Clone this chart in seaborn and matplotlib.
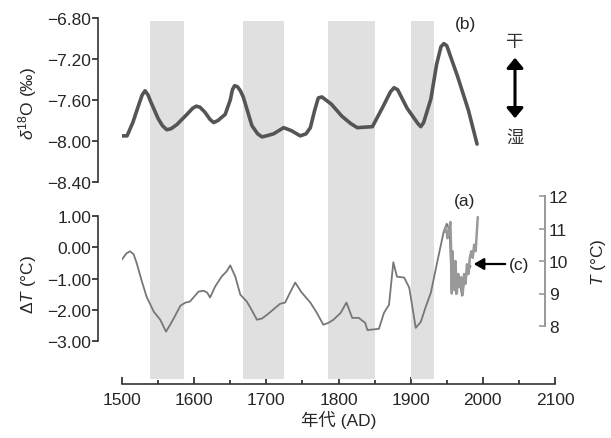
import matplotlib
matplotlib.use("Agg")
import matplotlib.pyplot as plt
import seaborn as sns
import pandas as pd

sns.set_style("ticks")
plt.rcParams['font.family'] = ['Liberation Sans', 'Noto Sans CJK SC', 'DejaVu Sans']
plt.rcParams['mathtext.fontset'] = 'custom'
plt.rcParams['mathtext.rm'] = 'Liberation Sans'
plt.rcParams['mathtext.it'] = 'Liberation Sans:italic'

# shaded cold/dry periods
band_start = [1539, 1668, 1786, 1900]
band_end = [1586, 1725, 1851, 1932]

# (b) stalagmite d18O
d18o_year = [1500, 1507, 1515, 1524, 1528, 1532, 1536, 1540, 1550, 1556, 1562, 1568, 1576,
             1590, 1598, 1603, 1608, 1615, 1622, 1627, 1633, 1643, 1650, 1653, 1656, 1660,
             1664, 1668, 1680, 1688, 1694, 1700, 1710, 1724, 1735, 1747, 1755, 1761, 1767,
             1772, 1777, 1790, 1805, 1817, 1826, 1847, 1862, 1872, 1877, 1882, 1895, 1910,
             1914, 1918, 1928, 1936, 1942, 1946, 1950, 1955, 1965, 1980, 1992]
d18o_val = [-7.95, -7.95, -7.82, -7.63, -7.55, -7.51, -7.55, -7.62, -7.78, -7.85, -7.89, -7.88, -7.84,
            -7.74, -7.68, -7.66, -7.67, -7.72, -7.79, -7.82, -7.80, -7.74, -7.60, -7.50, -7.46, -7.47,
            -7.51, -7.57, -7.85, -7.93, -7.96, -7.95, -7.93, -7.87, -7.90, -7.95, -7.93, -7.87, -7.70,
            -7.58, -7.57, -7.64, -7.76, -7.83, -7.87, -7.86, -7.66, -7.52, -7.48, -7.50, -7.68, -7.83,
            -7.86, -7.82, -7.59, -7.25, -7.08, -7.05, -7.07, -7.17, -7.37, -7.70, -8.03]

# (a) temperature anomaly
dt_year = [1500, 1506, 1511, 1516, 1520, 1527, 1534, 1544, 1553, 1561, 1569, 1581, 1588, 1594,
           1600, 1606, 1613, 1618, 1622, 1629, 1638, 1645, 1650, 1657, 1664, 1673, 1680, 1687,
           1694, 1701, 1719, 1726, 1734, 1740, 1749, 1761, 1770, 1779, 1786, 1793, 1803, 1811,
           1819, 1828, 1837, 1840, 1856, 1863, 1870, 1876, 1881, 1891, 1898, 1903, 1907, 1914,
           1921, 1928, 1937, 1946, 1950, 1954, 1957, 1960, 1963, 1967, 1971, 1975, 1979, 1983]
dt_val = [-0.39, -0.20, -0.13, -0.22, -0.48, -1.05, -1.58, -2.06, -2.32, -2.70, -2.39, -1.87, -1.77,
          -1.74, -1.58, -1.42, -1.39, -1.45, -1.61, -1.26, -0.94, -0.77, -0.58, -0.94, -1.52, -1.74,
          -2.02, -2.32, -2.28, -2.16, -1.81, -1.77, -1.40, -1.13, -1.45, -1.77, -2.10, -2.48, -2.42,
          -2.32, -2.10, -1.77, -2.26, -2.26, -2.42, -2.65, -2.61, -2.10, -1.84, -0.48, -0.94, -0.97,
          -1.29, -2.00, -2.58, -2.39, -1.90, -1.45, -0.45, 0.52, 0.75, 0.55, -1.40, -0.50, -1.50,
          -0.90, -1.55, -1.00, -0.80, -0.60]

# (c) instrumental temperature
t_year = [1947, 1949, 1951, 1953, 1955, 1956, 1957, 1958, 1959, 1961, 1962, 1964, 1966,
          1968, 1970, 1972, 1974, 1976, 1978, 1980, 1982, 1984, 1986, 1988, 1990, 1993]
t_val = [10.9, 11.05, 10.7, 10.9, 11.2, 10.4, 9.0, 10.3, 9.6, 9.1, 10.0, 9.0, 9.6,
         9.2, 9.5, 8.95, 9.6, 9.3, 9.9, 9.6, 10.1, 10.3, 10.1, 10.5, 10.3, 11.35]

W, H = 611, 439
fig = plt.figure(figsize=(W / 100, H / 100), dpi=100)


def pos(x0, y0, x1, y1):
    return [x0 / W, 1 - y1 / H, (x1 - x0) / W, (y1 - y0) / H]


FS = 12.5
xlim = (1500, 2100)

# background axes: bands + x axis
bg = fig.add_axes(pos(122, 22, 555, 385))
for s, e in zip(band_start, band_end):
    bg.axvspan(s, e, ymin=0.014, ymax=1, color="#e0e0e0", lw=0)
bg.set_xlim(*xlim)
bg.set_ylim(0, 1)
bg.set_yticks([])
for sp in ["top", "left", "right"]:
    bg.spines[sp].set_visible(False)
bg.spines["bottom"].set_linewidth(1.2)
bg.spines["bottom"].set_color("#333333")
bg.set_xticks(range(1500, 2101, 100))
bg.set_xticks(range(1550, 2100, 100), minor=True)
bg.tick_params(axis="x", which="major", direction="in", length=5, width=1.2, labelsize=FS, pad=6)
bg.tick_params(axis="x", which="minor", direction="in", length=3, width=1.2)
bg.set_xlabel("年代 (AD)", fontsize=FS, labelpad=2)
bg.patch.set_alpha(0)


def overlay(rect):
    ax = fig.add_axes(rect)
    ax.patch.set_alpha(0)
    ax.set_xlim(*xlim)
    ax.set_xticks([])
    for sp in ["top", "bottom", "right"]:
        ax.spines[sp].set_visible(False)
    return ax


# top panel (b)
ax_b = overlay(pos(122, 19, 555, 183))
df_b = pd.DataFrame({"year": d18o_year, "val": d18o_val})
sns.lineplot(data=df_b, x="year", y="val", ax=ax_b, color="#555555", lw=2.6,
             solid_joinstyle="round", solid_capstyle="round")
ax_b.set_ylim(-8.4, -6.8)
ax_b.set_yticks([-8.4, -8.0, -7.6, -7.2, -6.8])
ax_b.set_yticklabels(["\u22128.40", "\u22128.00", "\u22127.60", "\u22127.20", "\u22126.80"])
ax_b.spines["left"].set_position(("outward", 17))
ax_b.spines["left"].set_linewidth(1.2)
ax_b.spines["left"].set_color("#333333")
ax_b.tick_params(axis="y", direction="out", length=4, width=1.2, labelsize=FS, pad=1)
ax_b.set_xlabel("")
ax_b.set_ylabel("")

# bottom panel (a)
ax_a = overlay(pos(122, 217, 555, 342))
df_a = pd.DataFrame({"year": dt_year, "val": dt_val})
sns.lineplot(data=df_a, x="year", y="val", ax=ax_a, color="#777777", lw=1.3,
             solid_joinstyle="round")
ax_a.set_ylim(-3, 1)
ax_a.set_yticks([-3, -2, -1, 0, 1])
ax_a.set_yticklabels(["\u22123.00", "\u22122.00", "\u22121.00", "0.00", "1.00"])
ax_a.spines["left"].set_position(("outward", 17))
ax_a.spines["left"].set_linewidth(1.2)
ax_a.spines["left"].set_color("#333333")
ax_a.tick_params(axis="y", direction="out", length=4, width=1.2, labelsize=FS, pad=1)
ax_a.set_xlabel("")
ax_a.set_ylabel("")

# instrumental T (c) on right axis
ax_t = overlay(pos(122, 197, 555, 327))
ax_t.spines["left"].set_visible(False)
df_t = pd.DataFrame({"year": t_year, "val": t_val})
sns.lineplot(data=df_t, x="year", y="val", ax=ax_t, color="#999999", lw=1.8)
ax_t.set_ylim(8, 12)
ax_t.yaxis.tick_right()
ax_t.spines["right"].set_visible(True)
ax_t.spines["right"].set_position(("data", 2086))
ax_t.spines["right"].set_color("#999999")
ax_t.spines["right"].set_linewidth(1.4)
ax_t.set_yticks([8, 9, 10, 11, 12])
ax_t.tick_params(axis="y", direction="in", length=4, width=1.2, color="#999999",
                 labelsize=FS, pad=3)
ax_t.set_xlabel("")
ax_t.set_ylabel("")

# labels
fig.text(28 / W, 1 - 103 / H, r"$\delta^{18}$O (‰)", rotation=90, ha="center", va="center", fontsize=FS)
fig.text(28 / W, 1 - 284 / H, r"$\Delta T$ (°C)", rotation=90, ha="center", va="center", fontsize=FS)
fig.text(598 / W, 1 - 262 / H, r"$T$ (°C)", rotation=90, ha="center", va="center", fontsize=FS)
fig.text(465 / W, 1 - 25 / H, "(b)", ha="center", va="center", fontsize=FS)
fig.text(465 / W, 1 - 202 / H, "(a)", ha="center", va="center", fontsize=FS)

# dry / wet arrow
fig.text(515 / W, 1 - 42 / H, "干", ha="center", va="center", fontsize=FS, color="#333333")
fig.text(515 / W, 1 - 138 / H, "湿", ha="center", va="center", fontsize=FS, color="#333333")
fig.add_artist(matplotlib.patches.FancyArrowPatch(
    (515 / W, 1 - 56 / H), (515 / W, 1 - 122 / H), transform=fig.transFigure,
    arrowstyle="<|-|>,head_length=6,head_width=5", color="black", lw=2.2))

# (c) pointer
fig.text(509 / W, 1 - 266 / H, "(c)", ha="left", va="center", fontsize=FS)
fig.add_artist(matplotlib.patches.FancyArrowPatch(
    (508 / W, 1 - 265 / H), (471 / W, 1 - 265 / H), transform=fig.transFigure,
    arrowstyle="-|>,head_length=6,head_width=3.5", color="black", lw=1.6))

fig.savefig("out.png", dpi=100)
